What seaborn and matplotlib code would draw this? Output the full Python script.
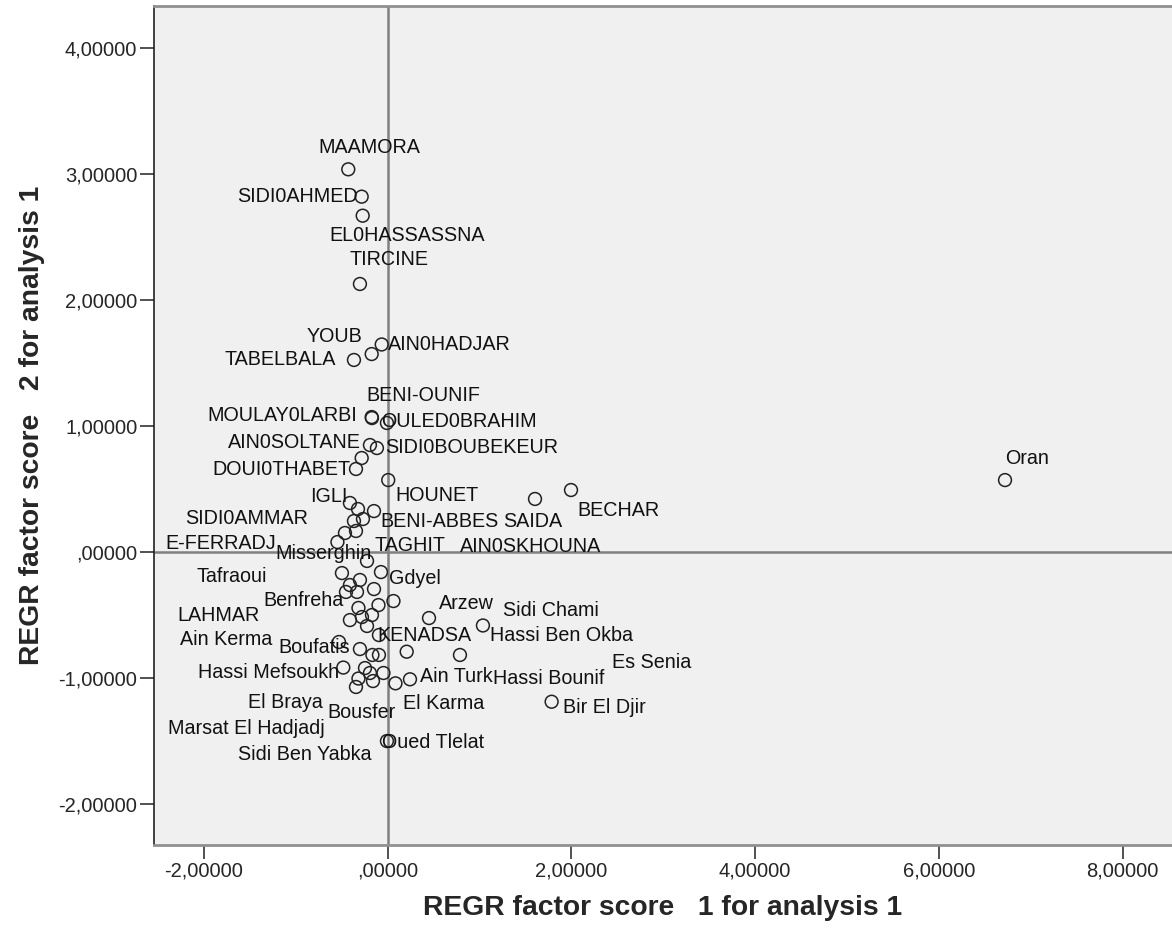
import pandas as pd
import matplotlib
matplotlib.use("Agg")
import matplotlib.pyplot as plt
import seaborn as sns

# communes (empty name = point drawn without a readable label)
names = ["MAAMORA", "SIDI0AHMED", "EL0HASSASSNA", "TIRCINE", "YOUB", "AIN0HADJAR",
         "TABELBALA", "MOULAY0LARBI", "BENI-OUNIF", "OULED0BRAHIM", "AIN0SOLTANE",
         "SIDI0BOUBEKEUR", "", "DOUI0THABET", "HOUNET", "SAIDA", "BECHAR", "Oran",
         "IGLI", "", "BENI-ABBES", "AIN0SKHOUNA", "SIDI0AMMAR", "TAGHIT", "",
         "E-FERRADJ", "Misserghin", "Gdyel", "Tafraoui", "", "", "", "", "", "", "",
         "Benfreha", "", "", "LAHMAR", "", "Arzew", "Sidi Chami", "KENADSA",
         "Ain Kerma", "Boufatis", "", "", "Es Senia", "Hassi Ben Okba",
         "Hassi Mefsoukh", "Marsat El Hadjadj", "", "Hassi Bounif", "El Braya",
         "Sidi Ben Yabka", "Bousfer", "El Karma", "Ain Turk", "Bir El Djir",
         "Oued Tlelat"]

factor1 = [-0.430, -0.284, -0.273, -0.303, -0.175, -0.066,
           -0.368, -0.175, -0.172, -0.009, -0.194,
           -0.118, -0.284, -0.346, 0.005, 1.603, 1.995, 6.720,
           -0.412, -0.324, -0.150, -0.270, -0.368, -0.346, -0.466,
           -0.548, -0.226, -0.074, -0.499, -0.303, -0.412, -0.455, -0.335, -0.150, 0.062, -0.101,
           -0.319, -0.172, -0.281, -0.412, -0.226, 0.449, 1.036, -0.096,
           -0.531, -0.303, -0.167, -0.096, 0.206, 0.786,
           -0.484, -0.248, -0.194, -0.047, -0.319,
           -0.161, -0.346, 0.084, 0.242, 1.784,
           -0.009]

factor2 = [3.037, 2.820, 2.669, 2.127, 1.571, 1.647,
           1.524, 1.071, 1.063, 1.024, 0.849,
           0.825, 0.746, 0.659, 0.571, 0.421, 0.492, 0.571,
           0.389, 0.341, 0.325, 0.262, 0.246, 0.167, 0.151,
           0.079, -0.071, -0.159, -0.167, -0.222, -0.262, -0.317, -0.317, -0.294, -0.389, -0.421,
           -0.444, -0.500, -0.516, -0.540, -0.587, -0.524, -0.583, -0.659,
           -0.714, -0.770, -0.817, -0.817, -0.791, -0.817,
           -0.917, -0.921, -0.960, -0.960, -1.004,
           -1.024, -1.071, -1.042, -1.010, -1.188,
           -1.500]

x_ticks = [-2, 0, 2, 4, 6, 8]
y_ticks = [-2, -1, 0, 1, 2, 3, 4]

# label placement: offset of the label's left/middle from the point, in pixels
label_offsets = {
    "MAAMORA": (-30, 22), "SIDI0AHMED": (-125, 0), "EL0HASSASSNA": (-33, -20),
    "TIRCINE": (-10, 24), "YOUB": (-65, 18), "AIN0HADJAR": (6, 0),
    "TABELBALA": (-129, 0), "MOULAY0LARBI": (-164, 2), "BENI-OUNIF": (-6, 23),
    "OULED0BRAHIM": (-6, 1), "AIN0SOLTANE": (-142, 3), "SIDI0BOUBEKEUR": (8, 1),
    "DOUI0THABET": (-144, -1), "HOUNET": (7, -15), "SAIDA": (-32, -23),
    "BECHAR": (6, -20), "Oran": (0, 22), "IGLI": (-40, 6), "BENI-ABBES": (6, -10),
    "AIN0SKHOUNA": (97, -27), "SIDI0AMMAR": (-169, 3), "TAGHIT": (19, -15),
    "E-FERRADJ": (-172, -1), "Misserghin": (-92, 7), "Gdyel": (8, -6),
    "Tafraoui": (-145, -3), "Benfreha": (-95, 7), "LAHMAR": (-173, 5),
    "Arzew": (10, 15), "Sidi Chami": (20, 15), "Hassi Ben Okba": (30, 19),
    "KENADSA": (-2, 0), "Ain Kerma": (-159, 2), "Boufatis": (-82, 2),
    "Es Senia": (205, -11), "Hassi Bounif": (110, -6), "Ain Turk": (10, 3),
    "El Karma": (8, -20), "Bir El Djir": (11, -6), "Oued Tlelat": (-5, -1),
    "Hassi Mefsoukh": (-145, -5), "El Braya": (-110, -24), "Bousfer": (-29, -26),
    "Marsat El Hadjadj": (-197, -60), "Sidi Ben Yabka": (-135, -73),
}

df = pd.DataFrame({"name": names, "f1": factor1, "f2": factor2})

sns.set_style("white")
plt.rcParams["font.family"] = ["Liberation Sans", "DejaVu Sans"]

W, H = 1172, 935
fig = plt.figure(figsize=(W / 100, H / 100), dpi=100)
ax = fig.add_axes([154 / W, 1 - 845 / H, 1 - 154 / W, (845 - 6) / H])
ax.set_facecolor("#f0f0f0")

ax.axvline(0, color="#808080", lw=1.8, zorder=1)
ax.axhline(0, color="#808080", lw=1.8, zorder=1)

sns.scatterplot(data=df, x="f1", y="f2", ax=ax, s=85, marker="o",
                facecolor="none", edgecolor="#222222", linewidth=1.1, zorder=3)

for _, row in df.iterrows():
    if row["name"]:
        ox, oy = label_offsets[row["name"]]
        ax.annotate(row["name"], (row["f1"], row["f2"]), xytext=(ox, oy),
                    textcoords="offset pixels", ha="left", va="center",
                    fontsize=14.2, color="#111111", zorder=4)

ax.set_xlim(-2.545, 8.538)
ax.set_ylim(-2.325, 4.333)


def spss_fmt(v):
    s = f"{v:.5f}".replace(".", ",")
    if s.startswith("0,"):
        s = s[1:]
    return s


ax.set_xticks(x_ticks)
ax.set_yticks(y_ticks)
ax.set_xticklabels([spss_fmt(v) for v in x_ticks])
ax.set_yticklabels([spss_fmt(v) for v in y_ticks])
ax.tick_params(axis="both", direction="out", length=10, width=1.2, color="#333333",
               labelsize=14.5, pad=2, bottom=True, left=True)

for side in ["top", "bottom"]:
    ax.spines[side].set_color("#909090")
    ax.spines[side].set_linewidth(2)
ax.spines["right"].set_visible(False)
ax.spines["left"].set_color("#222222")
ax.spines["left"].set_linewidth(1.2)

ax.set_xlabel("REGR factor score   1 for analysis 1", fontsize=20.3, fontweight="bold", labelpad=10)
ax.set_ylabel("REGR factor score   2 for analysis 1", fontsize=20.3, fontweight="bold", labelpad=10)

fig.savefig("out.png", dpi=100)
